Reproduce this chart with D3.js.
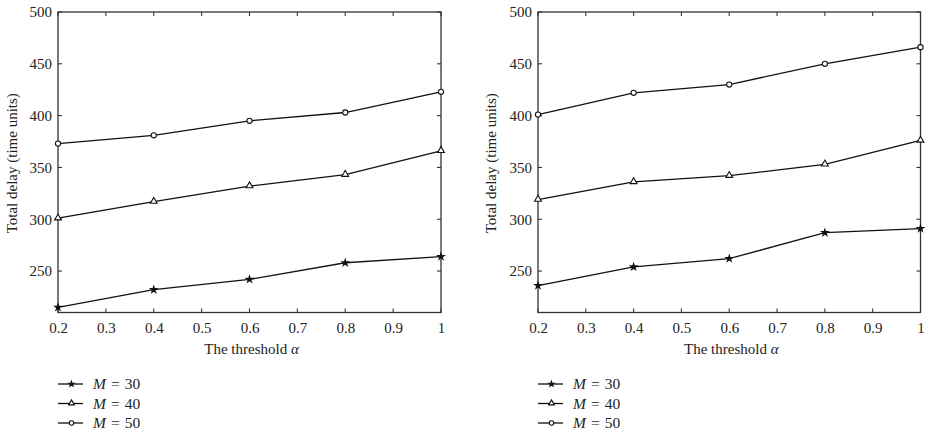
<!DOCTYPE html>
<html>
<head>
<meta charset="utf-8">
<script src="https://cdn.jsdelivr.net/npm/d3@7"></script>
<style>
  body { margin: 0; background: #fff; }
  svg text { font-family: "Liberation Serif", "Times New Roman", serif; fill: #222; }
</style>
</head>
<body>
<svg id="chart" width="931" height="432"></svg>
<script>
// ---- data ----
const thresholds = [0.2, 0.4, 0.6, 0.8, 1.0];
const seriesNames = ["M = 30", "M = 40", "M = 50"];
const leftM30 = [215, 232, 242, 258, 264];
const leftM40 = [301, 317, 332, 343, 366];
const leftM50 = [373, 381, 395, 403, 423];
const rightM30 = [236, 254, 262, 287, 291];
const rightM40 = [319, 336, 342, 353, 376];
const rightM50 = [401, 422, 430, 450, 466];
const xTicks = [0.2, 0.3, 0.4, 0.5, 0.6, 0.7, 0.8, 0.9, 1.0];
const yTicks = [250, 300, 350, 400, 450, 500];
const yDomain = [210, 500];
const xDomain = [0.2, 1.0];

const svg = d3.select("#chart");
const markers = ["star", "triangle", "circle"];

function drawMarker(g, type, x, y, s) {
  s = s || 1;
  if (type === "circle") {
    g.append("circle").attr("cx", x).attr("cy", y).attr("r", 2.6 * s)
      .attr("fill", "#fff").attr("stroke", "#111").attr("stroke-width", 1.1);
  } else if (type === "triangle") {
    g.append("path").attr("d", d3.symbol(d3.symbolTriangle, 20 * s * s)())
      .attr("transform", `translate(${x},${y - 0.3})`)
      .attr("fill", "#fff").attr("stroke", "#111").attr("stroke-width", 1.1);
  } else {
    g.append("path").attr("d", d3.symbol(d3.symbolStar, 30 * s * s)())
      .attr("transform", `translate(${x},${y})`)
      .attr("fill", "#111").attr("stroke", "none");
  }
}

function panel(opts, series) {
  const { left, right, top, bottom, ylabX, legendX } = opts;
  const g = svg.append("g");
  const x = d3.scaleLinear().domain(xDomain).range([left, right]);
  const y = d3.scaleLinear().domain(yDomain).range([bottom, top]);
  const tickLen = 4;

  // frame
  g.append("rect").attr("x", left).attr("y", top)
    .attr("width", right - left).attr("height", bottom - top)
    .attr("fill", "none").attr("stroke", "#333").attr("stroke-width", 1.3);

  // bottom axis labels
  const bottomAxis = d3.axisBottom(x).tickValues(xTicks).tickSize(0).tickPadding(10)
    .tickFormat(d => d === 1 ? "1" : d3.format(".1f")(d));
  const bax = g.append("g").attr("transform", `translate(0,${bottom})`).call(bottomAxis);
  bax.select(".domain").remove();
  bax.selectAll("text").attr("font-size", 15).attr("fill", "#222")
    .attr("font-family", "Liberation Serif, serif");

  // left axis labels
  const leftAxis = d3.axisLeft(y).tickValues(yTicks).tickSize(0).tickPadding(6);
  const lax = g.append("g").attr("transform", `translate(${left},0)`).call(leftAxis);
  lax.select(".domain").remove();
  lax.selectAll("text").attr("font-size", 15).attr("fill", "#222")
    .attr("font-family", "Liberation Serif, serif");

  // inward ticks on all four sides
  xTicks.forEach(t => {
    const px = x(t);
    g.append("line").attr("x1", px).attr("x2", px).attr("y1", bottom).attr("y2", bottom - tickLen)
      .attr("stroke", "#333").attr("stroke-width", 1.1);
    g.append("line").attr("x1", px).attr("x2", px).attr("y1", top).attr("y2", top + tickLen)
      .attr("stroke", "#333").attr("stroke-width", 1.1);
  });
  yTicks.forEach(t => {
    const py = y(t);
    g.append("line").attr("x1", left).attr("x2", left + tickLen).attr("y1", py).attr("y2", py)
      .attr("stroke", "#333").attr("stroke-width", 1.1);
    g.append("line").attr("x1", right).attr("x2", right - tickLen).attr("y1", py).attr("y2", py)
      .attr("stroke", "#333").attr("stroke-width", 1.1);
  });

  // axis titles
  const xt = g.append("text").attr("x", (left + right) / 2 + 2).attr("y", bottom + 41)
    .attr("text-anchor", "middle").attr("font-size", 15);
  xt.append("tspan").text("The threshold ");
  xt.append("tspan").attr("font-style", "italic").text("α");

  g.append("text")
    .attr("transform", `translate(${ylabX},${(top + bottom) / 2 + 1}) rotate(-90)`)
    .attr("text-anchor", "middle").attr("dominant-baseline", "middle")
    .attr("font-size", 15).text("Total delay (time units)");

  // series
  const line = d3.line().x((d, i) => x(thresholds[i])).y(d => y(d));
  series.forEach((vals, si) => {
    g.append("path").attr("d", line(vals)).attr("fill", "none")
      .attr("stroke", "#111").attr("stroke-width", 1.3);
    vals.forEach((v, i) => drawMarker(g, markers[si], x(thresholds[i]), y(v)));
  });

  // legend
  const legY = [384, 403.5, 423];
  seriesNames.forEach((name, si) => {
    const ly = legY[si];
    g.append("line").attr("x1", legendX).attr("x2", legendX + 25).attr("y1", ly).attr("y2", ly)
      .attr("stroke", "#111").attr("stroke-width", 1.3);
    drawMarker(g, markers[si], legendX + 13.5, ly, 0.85);
    const t = g.append("text").attr("x", legendX + 35).attr("y", ly + 5).attr("font-size", 15.5);
    const parts = name.split(" = ");
    t.append("tspan").attr("font-style", "italic").text(parts[0]);
    t.append("tspan").attr("dx", 5).text("=");
    t.append("tspan").attr("dx", 5).text(parts[1]);
  });
}

panel({ left: 58, right: 441, top: 12, bottom: 312.5, ylabX: 14, legendX: 58 },
      [leftM30, leftM40, leftM50]);
panel({ left: 538, right: 920.5, top: 12, bottom: 312.5, ylabX: 493, legendX: 538 },
      [rightM30, rightM40, rightM50]);
</script>
</body>
</html>
